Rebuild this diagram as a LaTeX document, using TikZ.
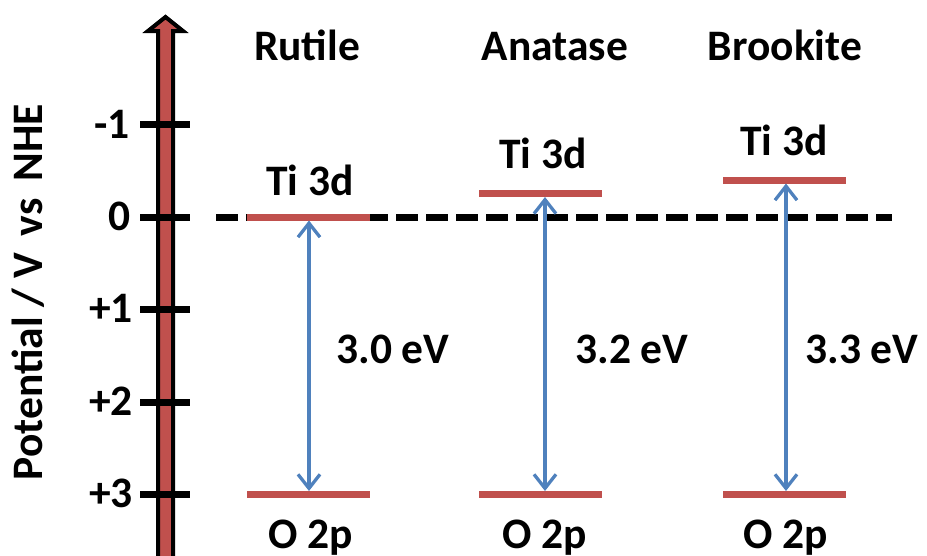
\documentclass[tikz,border=0pt]{standalone}
\usepackage{fontspec}
\setmainfont{Carlito}
\usetikzlibrary{arrows.meta}
\definecolor{lvlred}{HTML}{C0504D}
\definecolor{gapblue}{HTML}{4F81BD}
\tikzset{
  txt/.style={font=\bfseries\fontsize{43.5}{50}\selectfont, inner sep=0pt, anchor=base},
  ticklbl/.style={font=\bfseries\fontsize{43.5}{50}\selectfont, inner sep=0pt, anchor=base east},
  tickmark/.style={draw=black, line width=7pt},
  level/.style={draw=lvlred, line width=7pt},
  gaparrow/.style={draw=gapblue, line width=3.3pt, {Straight Barb[length=14pt,width=22pt,line width=3.3pt]}-{Straight Barb[length=14pt,width=22pt,line width=3.3pt]}},
  refline/.style={draw=black, line width=7pt, dash pattern=on 22pt off 8pt}
}
\begin{document}
\begin{tikzpicture}[x=1pt,y=-1pt]
\useasboundingbox (0,0) rectangle (927,555);
\clip (0,0) rectangle (927,555);
% axis arrow
\filldraw[fill=lvlred, draw=black, line width=4pt, line join=miter]
  (158,580) -- (158,31) -- (148,31) -- (165.5,17) -- (183,31) -- (173,31) -- (173,580) -- cycle;
% ticks
\foreach \yy/\nm in {124.7/m1,217/z,309.5/p1,402/p2,494.5/p3}{
  \coordinate (tl\nm) at (140,\yy);
  \coordinate (tr\nm) at (190,\yy);
  \draw[tickmark] (tl\nm) -- (tr\nm);
}
\node[ticklbl] (lm1) at (130,138) {-1};
\node[ticklbl] (lz) at (131,230) {0};
\node[ticklbl] (lp1) at (133,322.5) {+1};
\node[ticklbl] (lp2) at (133,415) {+2};
\node[ticklbl] (lp3) at (133,507.5) {+3};
\node[txt, rotate=90] (ytitle) at (42,292) {Potential / V\, vs\, NHE};
% dashed zero line
\coordinate (d0) at (216,217);
\coordinate (d1) at (892,217);
\draw[refline] (d0) -- (d1);
% levels
\coordinate (rcA) at (247,217); \coordinate (rcB) at (370,217);
\coordinate (rvA) at (247,494.5); \coordinate (rvB) at (370,494.5);
\coordinate (acA) at (479,193.5); \coordinate (acB) at (602,193.5);
\coordinate (avA) at (479,494.5); \coordinate (avB) at (602,494.5);
\coordinate (bcA) at (723,180); \coordinate (bcB) at (846,180);
\coordinate (bvA) at (723,494.5); \coordinate (bvB) at (846,494.5);
\draw[level] (rcA) -- (rcB);
\draw[level] (rvA) -- (rvB);
\draw[level] (acA) -- (acB);
\draw[level] (avA) -- (avB);
\draw[level] (bcA) -- (bcB);
\draw[level] (bvA) -- (bvB);
% gap arrows
\coordinate (rgt) at (309,220.5); \coordinate (rgb) at (309,491);
\coordinate (agt) at (545,197); \coordinate (agb) at (545,491);
\coordinate (bgt) at (786,183.5); \coordinate (bgb) at (786,491);
\draw[gaparrow] (rgt) -- (rgb);
\draw[gaparrow] (agt) -- (agb);
\draw[gaparrow] (bgt) -- (bgb);
% labels
\node[txt] (rut) at (307,60) {Rutile};
\node[txt] (ana) at (555,60) {Anatase};
\node[txt] (bro) at (785,60) {Brookite};
\node[txt] (rti) at (310,195) {Ti 3d};
\node[txt] (ati) at (543,168) {Ti 3d};
\node[txt] (bti) at (784,155) {Ti 3d};
\node[txt] (ro) at (311,548) {O 2p};
\node[txt] (ao) at (545,548) {O 2p};
\node[txt] (bo) at (786,548) {O 2p};
\node[txt] (reg) at (393,363) {3.0 eV};
\node[txt] (aeg) at (632,363) {3.2 eV};
\node[txt] (beg) at (862,363) {3.3 eV};
\end{tikzpicture}
\end{document}
